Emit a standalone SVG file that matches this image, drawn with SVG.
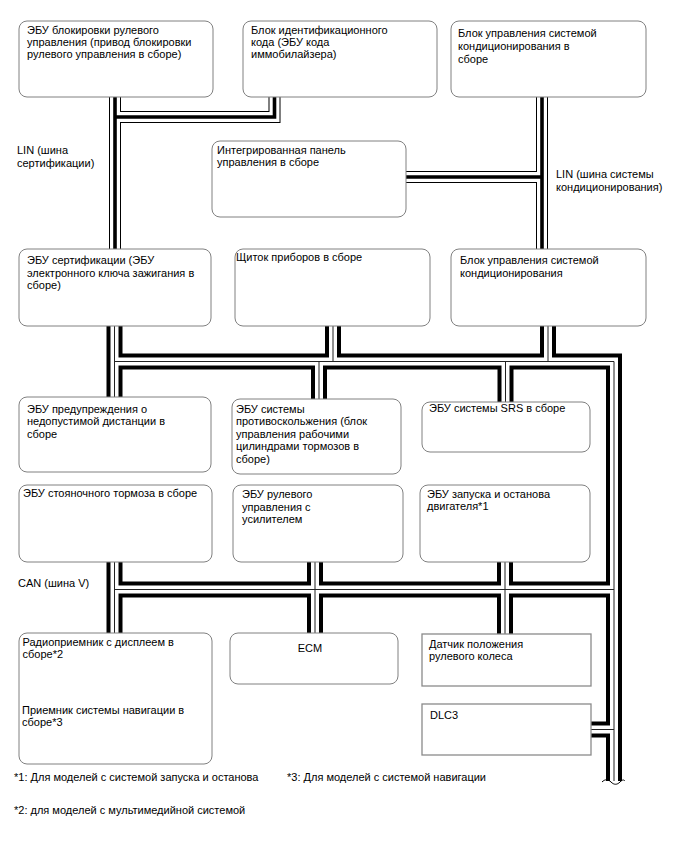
<svg xmlns="http://www.w3.org/2000/svg" xmlns:xlink="http://www.w3.org/1999/xlink" width="688" height="852" viewBox="0 0 688 852">
<style>
.t{font-family:"Liberation Sans",Arial,sans-serif;font-size:11px;fill:#000}
.box{fill:#fff;stroke:#808080;stroke-width:1}
.sq{fill:#fff;stroke:#8a8a8a;stroke-width:1.3}
.lo{fill:none;stroke:#000;stroke-width:12}
.lw{fill:none;stroke:#fff;stroke-width:10}
.lc{fill:none;stroke:#000;stroke-width:3.6}
.co{fill:none;stroke:#000;stroke-width:16}
.cw{fill:none;stroke:#fff;stroke-width:8}
.cc{fill:none;stroke:#222;stroke-width:1}
</style>
<defs>
<path id="lin" d="M115,92 V254 M115,117 H274.5 V92 M542,92 V254 M400,177 H542"/>
<path id="can" d="M114.5,320 V402 M114.5,361.5 H614 V781 M333,320 V361.5 M548,320 V361.5 M319,361.5 V404 M505.5,361.5 V407 M114.5,557 V638 M114.5,589.5 H614 M315,557 V638 M505,557 V639 M586,729.5 H614"/>
</defs>
<g id="connectors">
<use xlink:href="#lin" class="lo"/>
<use xlink:href="#lin" class="lw"/>
<use xlink:href="#lin" class="lc"/>
<use xlink:href="#can" class="co"/>
<use xlink:href="#can" class="cw"/>
<use xlink:href="#can" class="cc"/>
<path d="M602,782 c3,-3 6,-3 9,0 s6,3 9,0 s4,-2 5,-1" fill="none" stroke="#000" stroke-width="1"/>
<text class="t" x="17" y="154">LIN (шина</text>
<text class="t" x="17" y="166.5">сертификации)</text>
<text class="t" x="556" y="178">LIN (шина системы</text>
<text class="t" x="556" y="190.5">кондиционирования)</text>
<text class="t" x="18" y="586.5">CAN (шина V)</text>
</g>
<g id="steering-lock-ecu">
<rect class="box" x="19" y="21" width="194" height="76" rx="8"/>
<text class="t" x="27" y="33.5">ЭБУ блокировки рулевого</text>
<text class="t" x="27" y="45.5">управления (привод блокировки</text>
<text class="t" x="27" y="57.5">рулевого управления в сборе)</text>
</g>
<g id="immobiliser-ecu">
<rect class="box" x="243" y="21" width="194" height="76" rx="8"/>
<text class="t" x="251" y="33.5">Блок идентификационного</text>
<text class="t" x="251" y="45.5">кода (ЭБУ кода</text>
<text class="t" x="251" y="57.5">иммобилайзера)</text>
</g>
<g id="ac-control-assy">
<rect class="box" x="451" y="21" width="195" height="76" rx="8"/>
<text class="t" x="458" y="37">Блок управления системой</text>
<text class="t" x="458" y="50">кондиционирования в</text>
<text class="t" x="458" y="63">сборе</text>
</g>
<g id="integrated-panel">
<rect class="box" x="212" y="141" width="194" height="76" rx="8"/>
<text class="t" x="217" y="153.5">Интегрированная панель</text>
<text class="t" x="217" y="165.5">управления в сборе</text>
</g>
<g id="certification-ecu">
<rect class="box" x="19" y="249" width="192" height="77" rx="8"/>
<text class="t" x="27" y="264">ЭБУ сертификации (ЭБУ</text>
<text class="t" x="27" y="276.5">электронного ключа зажигания в</text>
<text class="t" x="27" y="289">сборе)</text>
</g>
<g id="combination-meter">
<rect class="box" x="235" y="249" width="195" height="77" rx="8"/>
<text class="t" x="236" y="261">Щиток приборов в сборе</text>
</g>
<g id="ac-amplifier">
<rect class="box" x="451" y="249" width="195" height="77" rx="8"/>
<text class="t" x="460" y="264">Блок управления системой</text>
<text class="t" x="460" y="276.5">кондиционирования</text>
</g>
<g id="distance-warning-ecu">
<rect class="box" x="19" y="397" width="192" height="75" rx="8"/>
<text class="t" x="27" y="412.5">ЭБУ предупреждения о</text>
<text class="t" x="27" y="425">недопустимой дистанции в</text>
<text class="t" x="27" y="437.5">сборе</text>
</g>
<g id="skid-control-ecu">
<rect class="box" x="232" y="399" width="169" height="75" rx="8"/>
<text class="t" x="236" y="412.5">ЭБУ системы</text>
<text class="t" x="236" y="425">противоскольжения (блок</text>
<text class="t" x="236" y="437.5">управления рабочими</text>
<text class="t" x="236" y="450">цилиндрами тормозов в</text>
<text class="t" x="236" y="462.5">сборе)</text>
</g>
<g id="srs-ecu">
<rect class="box" x="422" y="402" width="168" height="50" rx="8"/>
<text class="t" x="429" y="412">ЭБУ системы SRS в сборе</text>
</g>
<g id="parking-brake-ecu">
<rect class="box" x="19" y="485" width="193" height="77" rx="8"/>
<text class="t" x="23" y="497">ЭБУ стояночного тормоза в сборе</text>
</g>
<g id="power-steering-ecu">
<rect class="box" x="233" y="485" width="170" height="77" rx="8"/>
<text class="t" x="242" y="498">ЭБУ рулевого</text>
<text class="t" x="242" y="510.5">управления с</text>
<text class="t" x="242" y="523">усилителем</text>
</g>
<g id="stop-start-ecu">
<rect class="box" x="420" y="485" width="170" height="77" rx="8"/>
<text class="t" x="427" y="497.5">ЭБУ запуска и останова</text>
<text class="t" x="427" y="509.5">двигателя*1</text>
</g>
<g id="radio-navigation">
<rect class="box" x="19" y="633" width="193" height="131" rx="8"/>
<text class="t" x="22.5" y="646">Радиоприемник с дисплеем в</text>
<text class="t" x="22.5" y="658">сборе*2</text>
<text class="t" x="22" y="714">Приемник системы навигации в</text>
<text class="t" x="22" y="726">сборе*3</text>
</g>
<g id="ecm">
<rect class="box" x="230" y="633" width="168" height="51" rx="8"/>
<text class="t" x="310" y="651.5" text-anchor="middle">ECM</text>
</g>
<g id="steering-angle-sensor">
<rect class="sq" x="422" y="634" width="169" height="52"/>
<text class="t" x="429" y="647.5">Датчик положения</text>
<text class="t" x="429" y="659.5">рулевого колеса</text>
</g>
<g id="dlc3">
<rect class="sq" x="422" y="704" width="169" height="51"/>
<text class="t" x="430" y="718.5">DLC3</text>
</g>
<g id="notes">
<text class="t" x="14" y="781">*1: Для моделей с системой запуска и останова</text>
<text class="t" x="287" y="781">*3: Для моделей с системой навигации</text>
<text class="t" x="14" y="813.5">*2: для моделей с мультимедийной системой</text>
</g>
</svg>
